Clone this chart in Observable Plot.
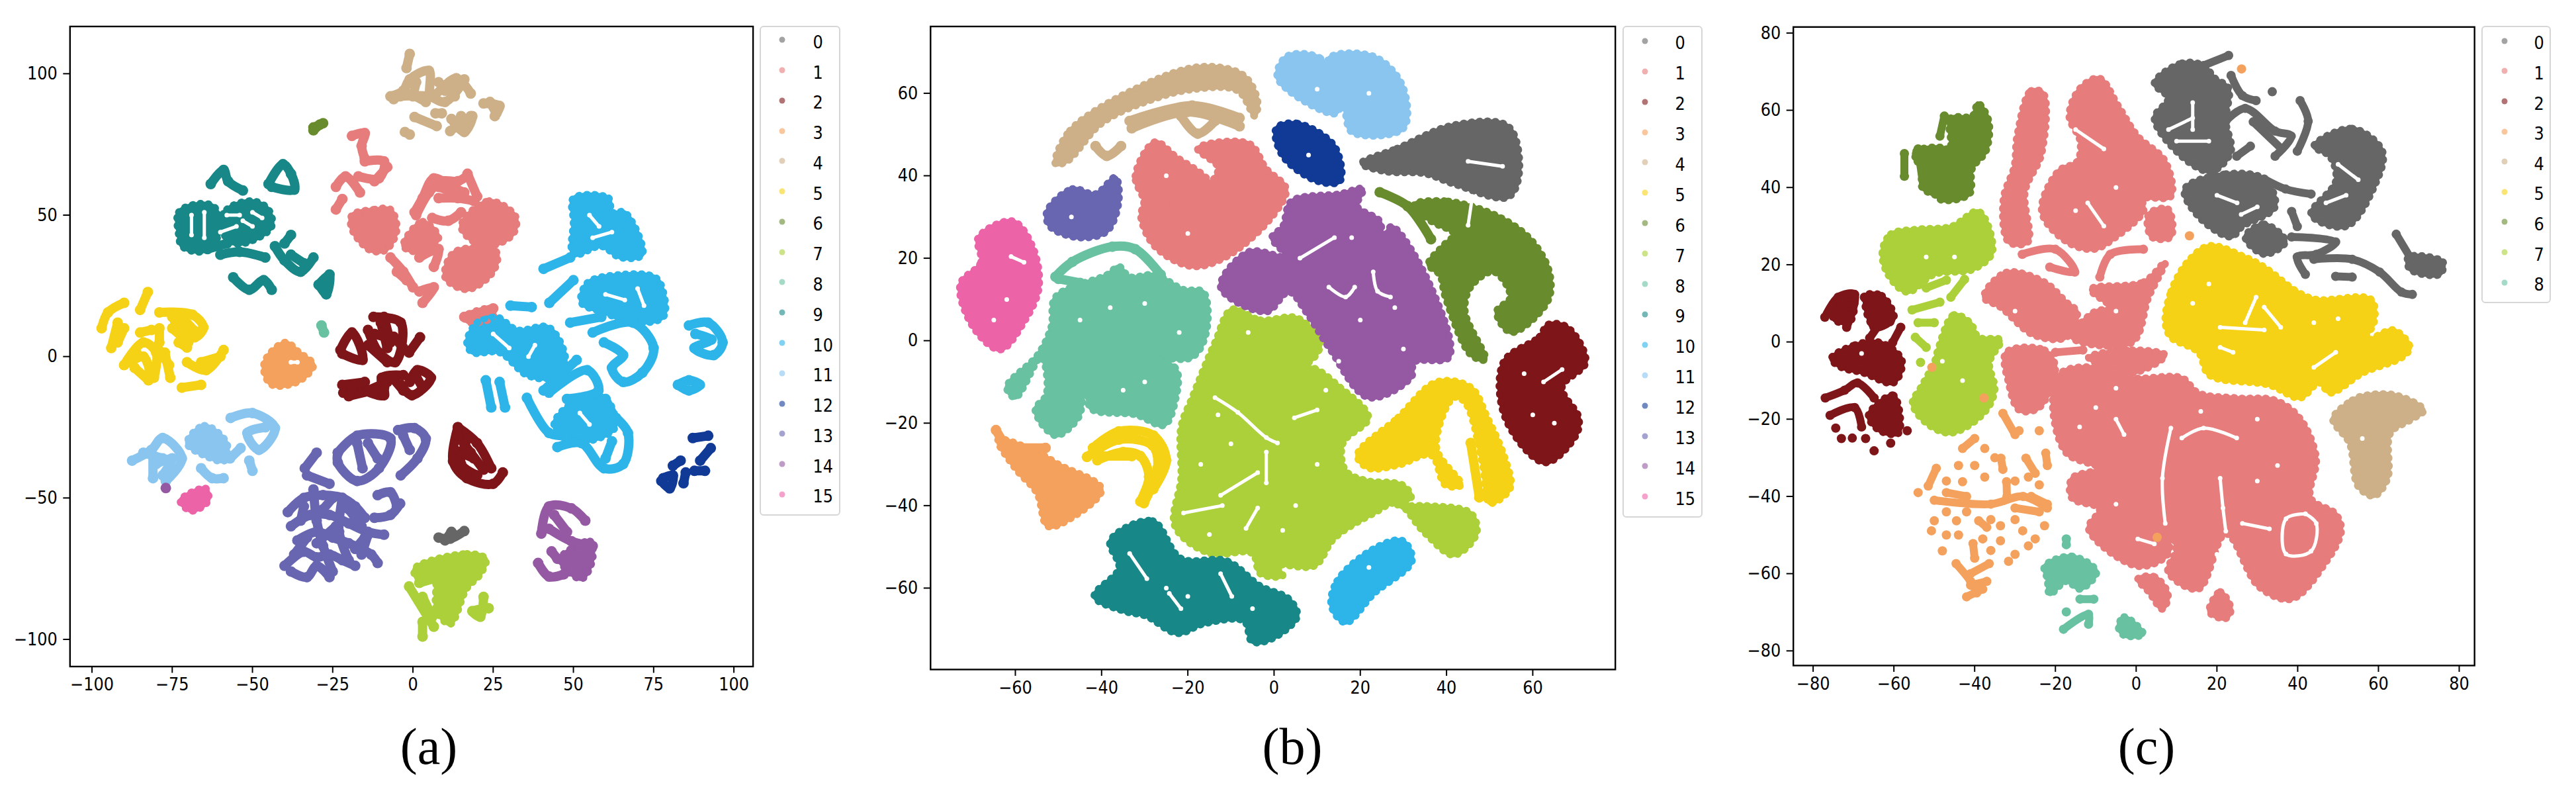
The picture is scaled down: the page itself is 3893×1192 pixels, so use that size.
<!DOCTYPE html>
<html><head><meta charset="utf-8">
<style>
html,body{margin:0;padding:0;background:#fff;width:3893px;height:1192px;overflow:hidden}
.p{position:absolute;top:0}
.cap{position:absolute;font-family:"Liberation Serif",serif;font-size:78px;line-height:78px;transform:translate(-50%,-50%);color:#000}
.lg{position:absolute;top:39px;box-sizing:border-box;border:2.5px solid #d6d6d6;border-radius:6px;background:#fff}
.lg i{position:absolute;width:9px;height:9px;border-radius:50%;opacity:.6;transform:translate(-50%,-50%)}
.lg b{position:absolute;font:400 24px "DejaVu Sans";transform:translateY(-50%) scaleY(1.14);color:#000}
svg{overflow:visible}
</style>
<script src="https://cdn.jsdelivr.net/npm/d3@7"></script>
<script src="https://cdn.jsdelivr.net/npm/@observablehq/plot@0.6"></script>
</head><body>
<script>
const classes=d3.range(16);
const palette=["#666666","#e67c7b","#7e1519","#f4a15d","#cdaf88","#f6d216","#688b2e","#acd039","#68c1a0","#188787","#2db4e9","#89c5ef","#103a96","#6866b0","#9558a3","#ec63a8"];
const labelsA=d3.range(16), labelsB=d3.range(16), labelsC=d3.range(9);

// ---------- panel (a) ----------
const a0=[[8,-64,11.6,-64.4,16,-61.7],[10,-65,12,-62]];
const a1=[[-19,78,-15,79,-16,74.5,-15,70],[-15,69,-9,69,-10.6,63,-17,63.7],[-24,60,-21,63.7,-16.5,58],[-24,52,-22,55.7],[-8,67,-12,62],[0.5,51,3,56,6.5,63,12,60,16,58],[1,50,5,58,9,62,14,62,17,64],[17,64.6,20,56.6],[8,56,14,56,19,55],[6,49,11,48,15,51],[8,60,13,58],[-7,35,-3,30,0,24.5],[-5,30,-2,27],[3,19,6.5,24.5,2,23],[2,35,8,38,6.5,31.7],[-14,50,-10,40],[16,14,25,17]];
const a1f=[[-19,50,-12,52,-7,52,-5,45,-8,38,-11,37,-14,38,-19,45],[15,46,23.6,55,32,49.5,31,43,22,39],[-3,39,3,47.7,8,42,3,37],[13,37,26,37,25,30,17,23.7,10,28],[16,14,25,17,25,14,17.6,12]];
const a2=[[-22.6,2.3,-19,8.5,-15.7,-1.2,-22,1],[-12.3,14,-3.8,12,-5.5,-2,-10.6,1.4,-14,9.4],[-10,12,-8,3],[-14,4,-8,-2],[-12,8,-6,6],[-9,14,-7,5],[-6,7,-3,3],[2.2,6.8,-1.2,1.4],[-21.7,-12.8,-19,-11,-9,-13.7,-9.7,-7.5,-3,-6.6],[-20,-14,-9,-11],[-22,-10,-15,-9],[-14,-12,-8,-9],[-6,-8,-3,-12],[-3.8,-10,-0.3,-13.7,5.6,-7.5,1.4,-4.8,-1,-9],[1,-7,3,-11],[14,-25,12.5,-37,16.8,-43,25,-45,28,-41],[14,-25,20,-30.6,24.4,-39.5],[17,-29,15,-38,20,-42],[14,-28,18,-34,22,-40],[13,-33,19,-36]];
const a3=[];
const a3f=[[-46.5,-4.8,-45.6,-0.4,-39.7,5,-35.4,1.4,-31,-3,-36,-9,-44,-10]];
const a4=[[-1,107,-2,102],[-7,92,-3,94,-1,98,5,101,5.6,92,13.5,98.4,18,93],[-4,92,5,92,10,90,15,96],[-6,91,-2,93,4,90],[1,97,0,92],[8,97,13,92],[10,94,16,98],[22,89.5,27,88.6,25.5,85],[24,90,26,86],[0.5,84.7,7.4,81.5],[11.6,79.7,18.5,85,16,79.4,12,84],[18,85,16,80],[14,82,15,85],[-2.5,79.4,-1,78.5],[7,86,9,86]];
const a5=[[-97,10,-95,15.6,-90,19],[-94,3,-92,12],[-92,5,-90,10],[-85,16.5,-82.6,22.8],[-85,8.5,-81.5,9.4],[-79,15.6,-68.7,14.8,-65.3,10.3,-68,6.8,-74,12],[-79,10,-79,5],[-72,14,-68,9],[-75,10,-70,5],[-75,14,-72,9],[-90,-3,-84,5,-80,1.4,-80.7,-7.5],[-86.7,-4,-82.4,-8.4],[-86,1,-88,-2],[-88,-2,-84,0,-82,-5],[-77.3,1.4,-75.6,-7.5],[-79,2,-76,-3],[-70.4,-2,-64.4,-4.8,-59,2.3],[-66,-2,-60,0],[-70.4,3.2,-73,5],[-72,-11,-66,-10]];
const a6=[[-31,81,-28,82.5],[-31,80,-29,82]];
const a7=[[-1.2,-81.3,6.5,-95.5],[3,-99,3,-93.8],[22,-85,21,-92,18.5,-90,23.6,-89],[2,-80,8,-78],[3,-85,6,-92]];
const a7f=[[0.5,-75,16.8,-69.7,22.7,-71.5,21,-77,16.8,-82,11.6,-94.6,7.4,-90,6.5,-77.8,1.4,-78.6]];
const a8=[[-28.5,11,-27.7,8.5]];
const a9=[[-63,61,-59,66,-57.6,62,-53,58.7],[-45,61,-40.5,68,-38,64.6,-37,59,-44,60],[-58,40,-64,38],[-60,36,-54,37,-46,35],[-43,39,-40,34,-35,30,-31,35],[-38,43,-40,40],[-38,36,-34,33],[-56,28,-51,23.6,-46.5,27,-44,23.6],[-29.4,25.4,-26,29,-27,22,-29,25]];
const a9f=[[-73,43,-73,51,-67,54,-62,53,-60,46,-62,40,-66,37,-72,39],[-60,46,-58,52,-50,55,-45,52,-44,46,-50,41,-56,40]];
const aGaps=[[-69,50,-69,43],[-65,51,-65,42],[-60,44,-55,46],[-53,48,-50,46],[-58,50,-54,50],[-50,51,-47,49],[55,50,58,46],[56,42,62,44],[60,22,66,20],[70,24,72,18],[25,8,30,3],[38,4,36,0],[52,-20,55,-24],[-38,-2,-36,-2]];
const a10=[[40.7,31,49,35],[42.5,19,50,27],[49,12,58.7,14],[56,8.5,68.5,12,75,3,71.5,-5.7,65.5,-9,62,-4,65.5,0.5,59.5,5],[30.4,18,37,17.5],[86,11,92,12,96.5,5,93.7,0.5,87.7,3,93,6,88,8],[82.6,-10,86,-8.4,89.4,-10,86,-12,82.6,-10],[22.7,-8.4,24.4,-18],[27,-9,28.7,-18],[35.5,-14.6,42.4,-27,47.5,-28],[40.7,-12,51,-1.2],[42.4,-12.8,54.3,-4.8,57.8,-12,48,-15],[63.3,-21.7,67,-27,65.5,-38,59.5,-39.5,52.5,-30.6,45,-32],[60,-15,63,-22],[62,-30,60,-36]];
const a10f=[[50,56,61,56,62,51,66,51,71.5,36,64.6,35,58.6,39,50,36,50,47.7],[52.5,19,54.3,26,65,29,75.5,28,78,23,78,14,68.5,12,59.5,15.6],[16.8,5,20,12,26,14,32.6,9.4,42.4,10.3,47.5,-2,42.4,-7.5,35.5,-6.6,27,1.4,18.5,1.4],[44,-23.5,51,-15.5,59.8,-14.6,63,-25,54,-30,46,-28]];
const a11=[[-87.5,-36.8,-81.5,-33,-78,-28.8,-72,-36,-77,-44],[-81,-43,-81,-35],[-84,-34,-78,-36],[-80,-38,-75,-36,-78,-42],[-57,-36,-53.7,-32.4],[-51,-36.8,-50,-40.4],[-66,-39.5,-62.6,-43,-59,-43],[-56.8,-21.7,-50,-20,-43,-25.3,-48,-33,-51.6,-27,-46,-25]];
const a11f=[[-70.4,-30.6,-65,-24.4,-58,-30.6,-58.7,-36.8,-65,-35]];
const a12=[[77.4,-44,80,-46.6,81,-42,78,-43],[81,-38.6,83.4,-36.8],[84.3,-44.8,85,-41],[87.7,-40.4,91,-40.4],[89.5,-36.8,92.8,-32.4],[87.2,-28.8,92,-28]];
const a13=[[-23.4,-34,-17.4,-28,-7,-29,-10.6,-39.5,-17.4,-44,-23.4,-37.5,-23.4,-34],[-17.4,-30.6,-15.7,-39.5],[-14,-30.6,-11,-36],[-4.6,-26,0.5,-25.3,4,-29,1.4,-36,-3.8,-42],[-3,-28,-1,-33],[-33.7,-39.5,-30,-34],[-33,-42,-26,-45],[-39,-55,-34,-50,-28,-49,-22,-50,-18,-53,-15,-57],[-38,-60,-32,-56,-26,-56,-20,-59,-14,-62,-9,-63],[-36,-65,-30,-62,-25,-64,-20,-66,-13,-70,-11,-73],[-40,-74,-34,-69,-30,-71,-26,-70,-22,-72,-18,-74],[-38,-76,-33,-78,-30,-74,-26,-78],[-31,-47,-30,-58,-28,-67,-25,-76],[-22,-50,-23,-62,-20,-72],[-14,-63,-16,-70],[-12,-57,-7,-56,-4,-52],[-11,-49,-7,-48,-5,-53],[-37,-70,-33,-64],[-30,-66,-24,-60],[-20,-54,-16,-60],[-35,-58,-34,-53],[-28,-54,-25,-50],[-18,-68,-15,-64]];
const a14=[[40,-62.6,42.4,-53,49.4,-53.7,53.7,-58],[42.4,-60.9,49.4,-65.3,56,-67],[44,-56,48,-62],[39,-73,42.4,-77.8,47,-77],[43.2,-68.9,45,-71.5],[-77,-46.5]];
const a14f=[[45.8,-71.5,55.2,-65.3,56,-71.5,52.6,-78.6,47.5,-75]];
const a15f=[[-72.5,-51,-64.6,-46.6,-63.8,-51,-69,-54.6]];

// ---------- panel (b) ----------
const b3=[[-64.5,-21.7,-60,-29.6],[-59,-26,-53,-26]];
const b4=[[-33.5,53.3,-19,57,-8,54],[-33,51.5,-20,55.5,-8,52],[-21.6,54.5,-17.7,50.2,-13.7,53.3],[-41.4,47.2,-38.8,44.8,-35.5,47.2]];
const b5=[[-43.4,-28.2,-36,-24,-28.2,-25.4,-27,-30.9,-30.2,-39.4],[-40,-28,-33,-28],[-42,-26,-36,-22,-28,-23,-25,-29,-28,-36],[-41,-29,-35,-27,-31,-28,-29,-33,-31,-39],[45.6,-24.8,47.6,-38]];
const b6=[[24.5,36,31,32.6,36.4,24.6]];
const b8=[[-50.7,15.5,-46.8,19.1,-37.5,22.8,-32.2,22.2,-26.3,16],[-50,15,-45,14]];
const b0f=[[20.3,43,28.5,46.6,41.7,52.3,54.3,52,56.9,41,54.3,34.8,41.7,38,35,40.5,25.9,41]];
const b1f=[[-30.2,33.8,-32.2,39.9,-27.6,48.2,-23,44.8,-15,38,-24,33,-15,38,-13,42,-17.7,46.6,-5.8,47.8,-1.8,41.7,2.8,36.8,-0.5,30,-11,20.4,-19,18,-27.6,22.8,-30.9,30]];
const b2f=[[53.2,-5.2,61.5,0.9,63.5,3.9,68,3.3,72.3,-5.2,66.8,-11.3,70.7,-18.7,70,-23,62.8,-29.6,53.6,-18.7]];
const b3f=[[-64,-24,-55,-27,-50,-30,-40,-36,-47,-43,-52.5,-45,-55,-37,-60,-31]];
const b4f=[[-50.7,42.9,-47.4,50.9,-29.5,62.4,-16.4,66.5,-7,64.3,-3.8,58,-4.5,54.5,-8.4,60.6,-19,60.9,-29.5,58,-40,52.7,-48,43.5]];
const b5f=[[19.3,-27.8,28.7,-18.7,37.7,-10,45.6,-11.3,49.5,-18.7,53.5,-28.4,54.8,-35.7,50,-39.4,48.3,-29.6,44.3,-15,41.7,-13.8,37.7,-26,43.4,-35,39.7,-35,36.4,-27.8,28.7,-30.2,21.9,-30.9]];
const b6f=[[32.5,33,40.4,33.8,52.2,30,60,24,64,16,63.4,9.4,55,2,51.6,7,54.8,10.6,50.9,16.7,45.6,13,44.3,7,49,-4.6,45.6,-3.4,39.7,10.6,38.4,16,35.8,18.5,39,22.8,41.7,25.9,36.4,29]];
const b7f=[[-9.8,7.6,-3.2,5,5.4,5.5,10.7,-0.4,9.4,-4,4.7,-7.7,8.6,-6.5,15.3,-11.3,21.9,-18.7,16,-24.8,16.6,-31.5,21.2,-33.9,29.8,-35,31.8,-38,28.5,-40,35,-40,45.6,-41.8,47,-46.7,41.7,-52,35,-46.7,28.5,-39.4,23.2,-41.8,14,-47.9,9.4,-54.6,0.8,-54.6,2,-57,-3.2,-56.5,-5.1,-51.6,-15,-51.6,-23,-45,-21.6,-33.3,-21.6,-21,-19,-13.8,-13.7,-0.4]];
const b8f=[[-50.7,10.6,-38.7,16,-36,18,-33.5,15.5,-27.6,16,-21,12.4,-16.4,11.8,-15.7,2,-19,-4,-28.2,-4,-40,-4.6,-44,-12.6,-45.4,-18.7,-50.7,-23,-55.4,-16.8,-52.8,-13,-54,-4,-60,-13.8,-62,-11.3,-54.8,-3.4,-51.7,3.3],[-40,-5.8,-23,-6.5,-23,-15,-25.5,-20.5,-32,-18,-42.7,-16.2]];
const b9f=[[-38,-48.5,-28.2,-43.7,-21.6,-52.8,-11,-53.4,-3.2,-59.5,3.4,-62.6,5.4,-66.8,-0.5,-72.3,-5.1,-73,-7,-68,-16.4,-68.7,-22.4,-71,-29.7,-66.8,-34.8,-65.6,-41.7,-62,-36,-55.2]];
const b10f=[[13.3,-64.4,14.6,-58.3,23.2,-50.4,29.8,-48.5,32,-53.4,23.2,-61.3,16.6,-68.4]];
const b11f=[[3,69,10.7,68.5,13.3,61.8,12.7,68.5,23.2,68.9,29.8,61.8,30,51.5,18,50.6,16,57,14,55,0.8,63.7]];
const b12f=[[0.5,51.5,5.4,52.7,14,47.2,15.3,38.7,10,38.7,2,44.8]];
const b13f=[[-52.7,31.3,-46.8,36.8,-41.4,35.6,-36.8,39.6,-36,33.8,-38.8,26.5,-45.4,25,-52,27.7]];
const b14f=[[-12.4,13,-5.8,21.6,2.8,20.4,-0.5,25,2,27.7,4,33.8,15.3,35.6,20.6,36.8,19.3,32.6,24.5,29,25.2,24,27.2,27.7,36.4,13,40.6,-4,32.5,-5.2,31.8,-8.9,21.9,-13.8,12.7,-1.6,7.4,7,3.4,11.8,-1.8,7]];
const b15f=[[-72.8,13.7,-68,19,-68.6,25,-60.6,29,-56,22.8,-54.5,13,-58,4.5,-63.5,-2.2,-69.8,3.3]];
const bGaps=[[-21,-41.8,-12,-40],[-12.4,-37.5,-3.8,-32],[-6.5,-45.5,-3.8,-40.6],[-1.8,-27,-1.8,-34.5],[-13.7,-13.8,-8.4,-17.4,-1.8,-23.5,0.8,-24.8],[4.7,-18.7,10,-16.8],[23,16.7,24,12,27,10.6],[12.7,13,16.6,10.6,18.7,13],[6,20,14,25],[62.5,-10,66.8,-7],[-33.5,-51.6,-29.5,-57.7],[-12.4,-56.5,-9.8,-62],[-24.3,-61.3,-21.6,-65],[-61,20.4,-58,19],[45,43.5,53,42.3],[46,35,45,28],
[-6,2],[-13,-18],[-17,-30],[-10,-25],[10,-30],[5,-40],[-15,-47],[2,-46],[12,-12],[-38,8],[-30,9],[-45,5],[-22,2],[-35,-12],[-30,-10],[18,25],[20,5],[28,8],[15,-5],[30,-2],[60,-18],[65,-20],[58,-8],[-62,10],[-65,5],[-25,-60],[-5,-65],[-20,-62],[22,-55],[22,60],[10,61],[8,45],[-25,40],[-20,26],[-47,30]];

// ---------- panel (c) ----------
const c0=[[16.7,71.6,22.9,74.2],[23.5,69,26.3,63.8,29.7,62.5],[33.7,64.8],[22.2,57.2,27,60.5,34.4,54.6,38.4,53.3,34.4,48.1],[29,57,36,50],[24.9,48.1,28.3,50.7],[40.6,62.5,42.6,57.2,39.9,49.4],[31.7,42.2,37,39.6,43.3,38.3],[60.3,47.5,54.9,37.7],[38.5,33.8,39.9,29.9],[38.5,27.2,49.4,25.9,44.6,22.7,39.9,22,41.9,17.5],[44,21.4,53.5,21.4,60.3,18.1,65.7,12.9,68.4,12.3],[49.4,17,53.5,16.8],[64.4,27.9,67.8,22]];
const c0f=[[4.5,67,11.3,72.2,16.7,71.6,19.5,68.3,22.9,65.7,22.2,57.2,23.5,49.4,18.8,44.2,12.7,46.8,4.5,57.9,7.9,63.1],[12,39.6,22.2,43.5,31.7,42.2,34.4,35,26.3,29.9,23.5,27.2,15.4,32.5],[27,27.2,31.7,30.5,37,26,31.7,22.7],[44,50.7,53.5,55.3,61,49.4,59,40.3,52,29.9,43.3,33,49.4,41.6,48,48],[67.4,22,76,20.7,75.2,17.5,67.8,18.8]];
const c1=[[-28.2,22.7,-20,24,-15.2,18.1,-21.4,19.4],[-9,16.8,-6.4,22.7,1.8,24],[-20,-2.7,-13.2,-2.1]];
const c1f=[[-29.5,53.3,-26.1,65,-23,64.4,-23.4,48.8,-27.5,39,-26.8,25.9,-31.6,25.9,-32.9,37,-30.2,45.5],[-16.6,58.5,-13.9,65.7,-9.1,68.3,-4.4,61.1,0.4,53.3,7.2,46.8,8.6,37.7,1.8,37,1.8,33.8,-5,27.2,-10.5,24,-17.3,26,-23.4,33.8,-19.3,44.2,-14.6,46.8,-13.9,52],[3.1,33.1,7.9,34.4,8.6,27.2,3.8,27.2],[-37.7,11.6,-32.2,18,-22.7,15.5,-17.3,10.3,-14.6,7.7,-17.3,1.2,-25.4,1.8,-33.6,9],[-11.2,13.6,1.8,15.5,7.2,20.7,3.1,11.6,-1,-0.1,-15.9,1.2,-10.5,7.7,-6.4,9],[-11.8,-4,-1,-2.1,7.2,-3.4,-1,-8],[-32.2,-2.7,-22.7,-2.1,-20,-6.6,-24,-17,-28.9,-17.7,-31.6,-10.6],[-18.6,-8,-9.1,-6.6,-1,-9.3,11.3,-9.3,15.4,-13.2,24.9,-14.5,34.4,-15.1,40.5,-19.7,44.6,-30,43.3,-40.5,49.4,-44.5,50.8,-49,46.7,-57.5,38.5,-66.6,30.4,-63.4,22.2,-49.7,15.4,-64,7.9,-59.5,9.9,-53.6,7.9,-48.4,7.9,-54.9,0.4,-58.1,-11.8,-48.4,-9.1,-43.2,-15.9,-40.5,-15.9,-35.3,-9.1,-32.7,-17.3,-28.8,-20.7,-15.8],[0.4,-61.4,4.5,-60.8,7.9,-65.3,6.5,-69.2,3.1,-64.7],[18.1,-69.9,20.8,-64.7,23.5,-69.2,22.2,-71.6]];
const c2=[[-77.1,6.4,-73.8,11.6,-69.7,12.3,-71.7,3.8],[-73,11,-71,7],[-67.3,11.6,-63.5,11.6,-60.8,5.7,-64.9,3.8,-66,9],[-58.3,3.8,-60.3,-0.1],[-66,1,-64,4],[-77,-14.5,-72.2,-12.5,-69,-10.6,-64.9,-14.5],[-75.8,-19,-69.7,-17,-68,-22],[-74.4,-22.3],[-70.3,-24.9],[-64.9,-28.2],[-60.8,-26.2],[-56.7,-23],[-67,-25],[-73,-25]];
const c2f=[[-75.5,-4.3,-69.7,-0.8,-63.5,-0.1,-58,-4.7,-60.1,-10.6,-67.6,-8,-73,-6.6],[-66.3,-19,-60.1,-13.8,-58.8,-23.6,-63.5,-23],[-74,11,-70,12,-71,5,-75,6],[-67,12,-63,12,-60,6,-65,4]];
const c3=[[-33,-18.5,-30,-24],[-29,-23],[-24,-23],[-49.5,-32.7,-51.5,-37.3],[-54,-39],[-43,-27.6,-40,-25],[-37.5,-27.6],[-33.5,-30.1,-33,-33],[-27.3,-30.1,-25,-34],[-22.4,-28.8,-22,-32],[-43,-36.2],[-37.5,-35],[-32.1,-36.2,-32,-40],[-26.7,-35],[-50,-41,-36,-42,-28,-40,-22,-43],[-47,-39,-42,-40],[-30,-43,-24,-44],[-26,-40,-22,-42],[-50,-46.3],[-44.5,-46.3],[-39,-46.3,-37,-48],[-33.6,-47.6],[-28.1,-48.9],[-22.7,-47.6],[-50.7,-48.9],[-40.4,-52.2,-40,-56],[-33.6,-51.5],[-26.7,-52.8],[-48,-54.1],[-44.6,-57.4,-41,-62,-39.5,-65],[-36.4,-57.4,-41,-60],[-31.6,-56.8],[-47,-36],[-40,-32],[-35,-30],[-44,-32],[-30,-36],[-24,-37],[-47,-44],[-42,-44],[-36,-46],[-30,-46],[-25,-51],[-44,-50],[-38,-51],[-30,-55],[-47,-50],[-36,-54],[-42,-66,-38,-64],[-41,-63,-37,-62]];
const c3s=[[26.1,70.7],[13.2,27.5],[5.2,-50.6],[-50.6,-6.6],[-37.7,-14.5]];
const c4f=[[48.7,-19.7,53.5,-15.1,56.9,-13.8,64.4,-13.8,71.2,-17.7,67.8,-20.3,63,-23.6,62.3,-35.3,58.9,-39.9,54.9,-37.3,52.8,-26.2,49.4,-21.6]];
const c5f=[[7.2,5,8.6,13,12.7,20.7,18.1,24.9,26.9,22,31.7,19.4,39.9,13,44.6,11,58.2,11,58.9,5,56.2,-0.1,63.7,3.1,67.8,-1.4,65.8,-4,56.2,-8,48,-13.2,45.3,-10.6,40.6,-14.5,33,-11.2,18.1,-8.6,15.4,-2.7,8.6,1.2]];
const c6=[[-57.4,48.8,-57.4,42.9],[-54,50,-52.7,40.3],[-54,46.8,-47.1,48],[-47.5,58.5,-48.6,53.3]];
const c6f=[[-46,50.7,-46,57.9,-40.6,58.5,-39.2,61.8,-36.5,57.2,-37.2,49.4,-40.6,44.9,-41.3,38.3,-48.7,37,-48.7,41.6,-44.7,44.2,-47.4,49.4],[-55,49,-47,50,-44,44,-48,38,-53,40,-53,45]];
const c7=[[-42.5,16.2,-45.9,11.6],[-55.5,8.3,-48.6,10.3],[-54.7,1.2,-52,-1.4],[-53.4,-5.3],[-52,14,-47,16],[-54,5,-50,5]];
const c7f=[[-62.9,23.3,-60.8,27.9,-54,29.2,-45.8,29.9,-39,33.8,-35.6,23.3,-40.4,18.8,-50,17.5,-56.7,12.9,-61.5,17.5],[-49.3,-2.7,-45.2,7,-41.1,5,-39,1.2,-33.6,0.5,-36.3,-5.3,-35,-12.5,-37.7,-18.4,-45.9,-23.6,-52,-21,-55.4,-15.8,-53.4,-11.9,-50,-5.3]];
const c8=[[-17.3,-51,-17.3,-52.5],[-18,-74.4,-11.8,-70.5,-11.8,-73.1],[-17.3,-69.9],[-13.9,-66.6,-10.5,-66.6]];
const c8f=[[-22.7,-58.1,-15.9,-55.5,-9.8,-59.5,-13.9,-64,-17.3,-62,-21.4,-65.3,-22,-61.4],[-4.4,-73.8,-3,-71.2,1.8,-75.7,-3,-76]];
const cGaps=[[41.9,-44.5,37.1,-45.8,37.1,-54.9,43.3,-54.2,44.6,-47,41.9,-44.5],[8.6,-22.3,6.5,-35.3,7.2,-47],[11.3,-24.9,16.7,-22.3,24.9,-24.9],[20.8,-35.3,21.5,-43,22.2,-49],[0.4,-51,4.5,-52.3],[26.3,-47,33,-48.4],[20.8,-1.4,24,-2.7],[31.7,9,35.8,3.8],[44,-6.6,49.4,-2.7],[29.7,11.6,27,5],[20.8,3.8,31.7,3.1],[-5,-20,-3,-24],[-12,36,-8,30],[-15,55,-8,50],
[14,62,14,55],[10,52,18,52],[8,55,14,58],[25,36,20,38],[30,35,26,33],[50,46,55,42],[47,36,52,38],[-10,-17],[-14,-22],[-5,-12],[16,-18],[30,-20],[35,-32],[30,-36],[20,-55],[-5,-42],[-45,22],[-52,22],[-43,-10],[-48,-5],[50,-30],[18,15],[14,10],[44,5],[50,6],[-30,8],[-5,8],[-15,34],[-5,40],[56,-25],[-68,-3]];
const c1h=[[38.5,-47,42,-48,41,-53,38.5,-53]];

const LA=[[0,a0],[1,a1],[2,a2],[3,a3],[4,a4],[5,a5],[6,a6],[7,a7],[8,a8],[9,a9],[10,a10],[11,a11],[12,a12],[13,a13],[14,a14]];
const FA=[[1,a1f],[3,a3f],[7,a7f],[9,a9f],[10,a10f],[11,a11f],[14,a14f],[15,a15f]];
const LB=[[3,b3],[4,b4],[5,b5],[6,b6],[8,b8]];
const FB=[[0,b0f],[1,b1f],[2,b2f],[3,b3f],[4,b4f],[5,b5f],[6,b6f],[7,b7f],[8,b8f],[9,b9f],[10,b10f],[11,b11f],[12,b12f],[13,b13f],[14,b14f],[15,b15f]];
const LC=[[0,c0],[1,c1],[2,c2],[3,c3],[3,c3s],[6,c6],[7,c7],[8,c8]];
const FC=[[0,c0f],[1,c1f],[2,c2f],[4,c4f],[5,c5f],[6,c6f],[7,c7f],[8,c8f]];

function rows(groups){const out=[];let id=0;
  for(const [c,list] of groups)for(const s of list){id++;for(let i=0;i<s.length;i+=2)out.push({x:s[i],y:s[i+1],c,id});}
  return out;}

function panel(o){
  const L=rows(o.lines),F=rows(o.fills),G=rows(o.gaps?[[0,o.gaps]]:[]),H=rows(o.holes?[[o.holes[0],o.holes[1]]]:[]);
  const fl=o.right-o.left;
  const ch=Plot.plot({
    width:fl+o.left+10,height:o.bottom+60,marginLeft:o.left,marginRight:10,marginTop:o.top,marginBottom:60,
    style:{background:"transparent",overflow:"visible",fontFamily:"DejaVu Sans",fontSize:"24px"},
    x:{domain:o.xd,ticks:o.xt,label:null},y:{domain:o.yd,ticks:o.yt,label:null},
    color:{type:"ordinal",domain:classes,range:palette},
    marks:[
      Plot.line(F,{x:"x",y:"y",z:"id",fill:"c",stroke:"c",strokeWidth:o.fw,strokeLinejoin:"round",curve:"catmull-rom-closed"}),
      Plot.line(F,{x:"x",y:"y",z:"id",stroke:"c",strokeWidth:o.fw+5,strokeLinecap:"round",strokeDasharray:"1 11",curve:"catmull-rom-closed"}),
      Plot.line(G,{x:"x",y:"y",z:"id",stroke:"#fff",strokeWidth:o.gw,strokeLinecap:"round",strokeLinejoin:"round",curve:"catmull-rom"}),
      Plot.dot(G,{x:"x",y:"y",fill:"#fff",r:o.gw/2+1}),
      Plot.line(H,{x:"x",y:"y",z:"id",fill:"c",stroke:"c",strokeWidth:4,curve:"catmull-rom-closed"}),
      Plot.line(L,{x:"x",y:"y",z:"id",stroke:"c",strokeWidth:o.w,strokeLinecap:"round",strokeLinejoin:"round",curve:"catmull-rom"}),
      Plot.dot(L,{x:"x",y:"y",fill:"c",r:o.w/2+1}),
      Plot.axisX({ticks:o.xt,tickSize:10,tickPadding:7,fontSize:24,fontFamily:"DejaVu Sans",strokeWidth:2,label:null,color:"#000"}),
      Plot.axisY({ticks:o.yt,tickSize:10,tickPadding:9,fontSize:24,fontFamily:"DejaVu Sans",strokeWidth:2,label:null,color:"#000"}),
      Plot.frame({stroke:"#000",strokeWidth:2.4})
    ]});
  ch.querySelectorAll('g[aria-label$="tick label"] text').forEach(t=>{const a=t.getAttribute("transform")||"";t.setAttribute("transform",a+" scale(1,1.13)");});
  ch.classList.add("p");ch.style.left=o.x+"px";ch.style.position="absolute";ch.style.top="0";
  document.body.appendChild(ch);
}
const xtA=[-100,-75,-50,-25,0,25,50,75,100], ytA=[-100,-50,0,50,100];
const xtB=[-60,-40,-20,0,20,40,60], ytB=[-60,-40,-20,0,20,40,60];
const xtC=[-80,-60,-40,-20,0,20,40,60,80], ytC=[-80,-60,-40,-20,0,20,40,60,80];
panel({x:0,left:105.3,right:1137.6,top:39.5,bottom:1006.5,xd:[-106.85,105.98],yd:[-109.6,116.7],xt:xtA,yt:ytA,lines:LA,fills:FA,gaps:aGaps,w:14,fw:6,gw:5});
panel({x:1250,left:155.8,right:1190.7,top:39.5,bottom:1011,xd:[-79.67,79.15],yd:[-79.75,76.2],xt:xtB,yt:ytB,lines:LB,fills:FB,gaps:bGaps,w:14,fw:6,gw:5});
panel({x:2590,left:119.7,right:1149.2,top:40.3,bottom:1005,xd:[-84.9,83.8],yd:[-83.8,81.56],xt:xtC,yt:ytC,lines:LC,fills:FC,gaps:cGaps,holes:[1,c1h],w:12,fw:6,gw:5});

function legend(left,right,bottom,dotX,txtX,y0,step,labels){
  const d=document.createElement("div");d.className="lg";
  d.style.left=left+"px";d.style.width=(right-left)+"px";d.style.height=(bottom-39)+"px";
  labels.forEach((l,i)=>{
    const it=document.createElement("i");it.style.left=(dotX-left-2.5)+"px";it.style.top=(y0+i*step-39-2.5)+"px";it.style.background=palette[l];d.appendChild(it);
    const t=document.createElement("b");t.textContent=l;t.style.left=(txtX-left-2.5)+"px";t.style.top=(y0+i*step+3.5-39-2.5)+"px";d.appendChild(t);
  });
  document.body.appendChild(d);
}
legend(1148,1269.5,778.5,1182,1229,60.8,45.77,labelsA);
legend(2452,2573,781.5,2486.3,2532,62.3,45.9,labelsB);
legend(3750,3854.7,458,3785,3830,62.3,45.6,labelsC);
[["(a)",648],["(b)",1953],["(c)",3244]].forEach(([s,x])=>{const c=document.createElement("div");c.className="cap";c.textContent=s;c.style.left=x+"px";c.style.top="1128px";document.body.appendChild(c);});
</script>
</body></html>
